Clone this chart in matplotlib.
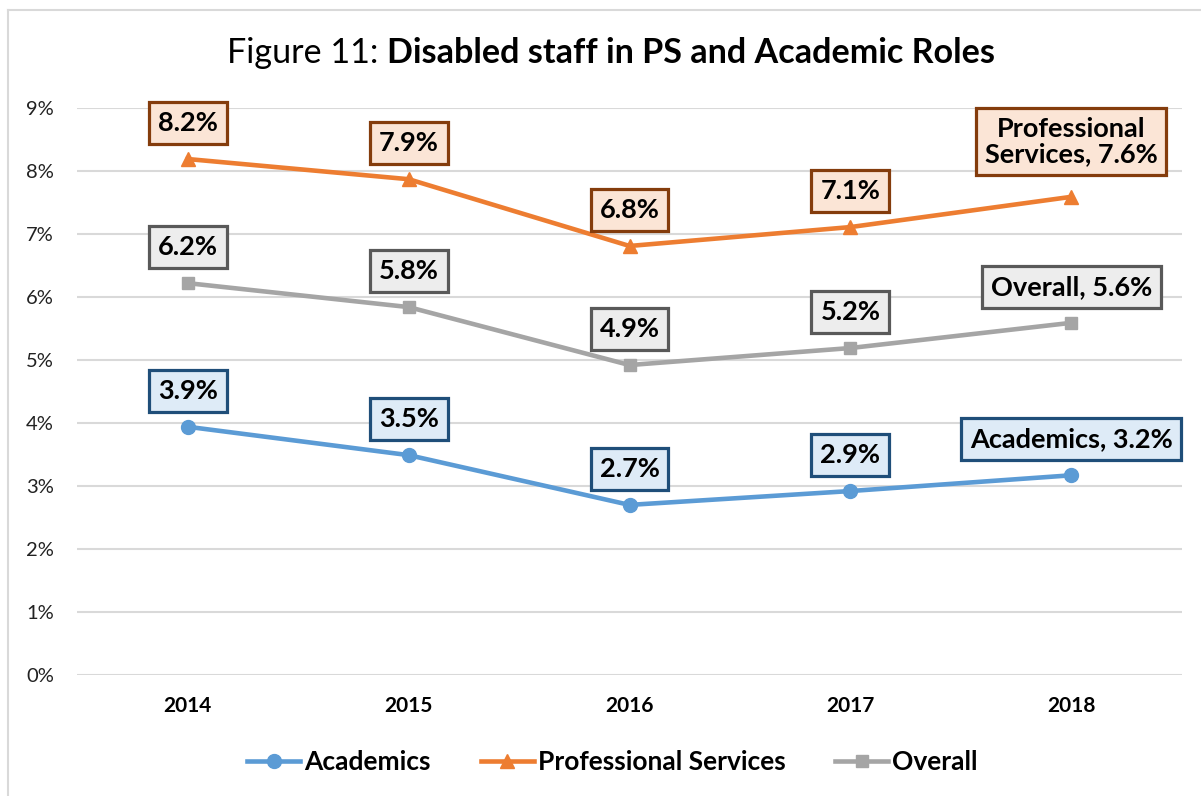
import matplotlib
matplotlib.use("Agg")
import matplotlib.pyplot as plt
from matplotlib.lines import Line2D

plt.rcParams['font.family'] = ['Lato', 'DejaVu Sans']

# data
years = ['2014', '2015', '2016', '2017', '2018']
academics = [3.94, 3.49, 2.70, 2.92, 3.17]
prof_services = [8.19, 7.87, 6.81, 7.11, 7.59]
overall = [6.22, 5.84, 4.92, 5.19, 5.59]

acad_labels = ['3.9%', '3.5%', '2.7%', '2.9%', 'Academics, 3.2%']
ps_labels = ['8.2%', '7.9%', '6.8%', '7.1%', 'Professional\nServices, 7.6%']
overall_labels = ['6.2%', '5.8%', '4.9%', '5.2%', 'Overall, 5.6%']

y_ticks = [0, 1, 2, 3, 4, 5, 6, 7, 8, 9]
y_tick_labels = ['0%', '1%', '2%', '3%', '4%', '5%', '6%', '7%', '8%', '9%']

# colours
blue, orange, grey = '#5B9BD5', '#ED7D31', '#A5A5A5'

fig = plt.figure(figsize=(12.01, 7.96), dpi=100)
ax = fig.add_axes([0.0645, 0.152, 0.9193, 0.7123])

x = list(range(len(years)))
ax.plot(x, academics, '-o', color=blue, lw=3.3, ms=10, label='Academics', zorder=3)
ax.plot(x, prof_services, '-^', color=orange, lw=3.3, ms=10.5, label='Professional Services', zorder=3)
ax.plot(x, overall, '-s', color=grey, lw=3.3, ms=9, label='Overall', zorder=3)

ax.set_xlim(-0.5, len(years) - 0.5)
ax.set_ylim(0, 9)
ax.set_yticks(y_ticks)
ax.set_yticklabels(y_tick_labels, fontsize=14.5, color='#222222')
ax.set_xticks(x)
ax.set_xticklabels(years, fontsize=15, fontweight='bold')
ax.tick_params(axis='both', length=0)
ax.tick_params(axis='y', pad=17)
ax.tick_params(axis='x', pad=15)
ax.grid(axis='y', color='#D9D9D9', lw=1.5)
ax.set_axisbelow(True)
for s in ax.spines.values():
    s.set_visible(False)


def put_labels(vals, labels, face, edge):
    for i, (v, t) in enumerate(zip(vals, labels)):
        off = 26
        if '\n' in t:
            off = 40
        ax.annotate(t, (i, v), xytext=(0, off), textcoords='offset points',
                    ha='center', va='center', fontsize=19.5, fontweight='bold',
                    linespacing=1.05,
                    bbox=dict(boxstyle='square,pad=0.33', fc=face, ec=edge, lw=2.3),
                    zorder=5)


put_labels(prof_services, ps_labels, '#FBE5D6', '#843C0C')
put_labels(overall, overall_labels, '#EDEDED', '#595959')
put_labels(academics, acad_labels, '#DEEBF7', '#1F4E79')

# legend
handles = [
    Line2D([], [], color=blue, lw=3.3, marker='o', ms=10),
    Line2D([], [], color=orange, lw=3.3, marker='^', ms=10.5),
    Line2D([], [], color=grey, lw=3.3, marker='s', ms=9),
]
fig.legend(handles, ['Academics', 'Professional Services', 'Overall'],
           loc='center', bbox_to_anchor=(0.51, 0.043), ncol=3, frameon=False,
           prop={'size': 19, 'weight': 'bold'}, handlelength=2.0,
           handletextpad=0.15, columnspacing=1.9)

# title: regular part + bold part
t1 = fig.text(0, 0.933, 'Figure 11: ', fontsize=24.6, va='center', ha='left')
t2 = fig.text(0, 0.933, 'Disabled staff in PS and Academic Roles', fontsize=24.6,
              fontweight='bold', va='center', ha='left')
fig.canvas.draw()
r = fig.canvas.get_renderer()
w1 = t1.get_window_extent(r).width
w2 = t2.get_window_extent(r).width
W = fig.bbox.width
start = 611 - (w1 + w2) / 2
t1.set_x(start / W)
t2.set_x((start + w1) / W)

# chart area border (top and left)
fig.add_artist(Line2D([8 / 1201, 8 / 1201], [0, 1 - 10 / 796], color='#D9D9D9', lw=1.5))
fig.add_artist(Line2D([8 / 1201, 1], [1 - 10 / 796, 1 - 10 / 796], color='#D9D9D9', lw=1.5))

fig.savefig('out.png', dpi=100)
